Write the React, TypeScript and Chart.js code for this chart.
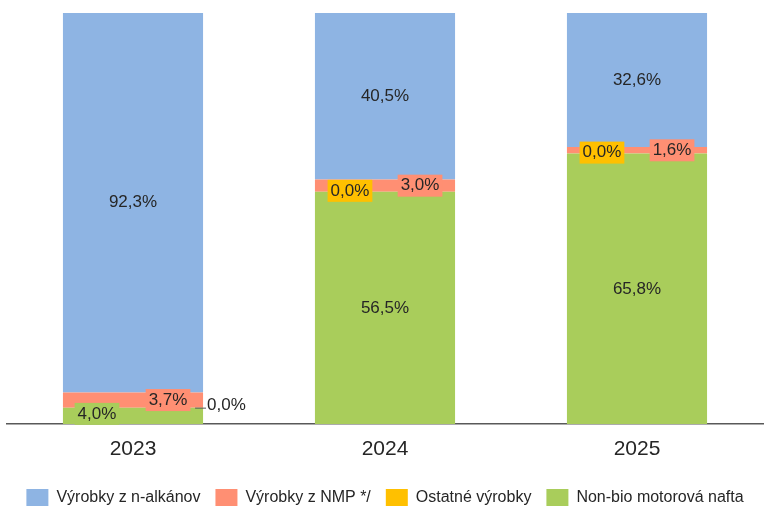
import React, { useEffect, useRef } from "react";
import { Chart, registerables } from "chart.js";

Chart.register(...registerables);

const categories = ["2023", "2024", "2025"];
const nonBio = [4.0, 56.5, 65.8];
const ostatne = [0.0, 0.0, 0.0];
const nmp = [3.7, 3.0, 1.6];
const nAlkany = [92.3, 40.5, 32.6];

const seriesNames = [
  "Non-bio motorová nafta",
  "Ostatné výrobky",
  "Výrobky z NMP */",
  "Výrobky z n-alkánov",
];
const colors = ["#A9CD5B", "#FFC000", "#FF8F73", "#8EB4E3"];

const FONT = "'Liberation Sans', Arial, sans-serif";
const TEXT = "#262626";

const fmt = (v: number) => v.toFixed(1).replace(".", ",") + "%";

const labelPlugin = {
  id: "segLabels",
  afterDatasetsDraw(chart: any) {
    const ctx = chart.ctx;
    ctx.save();
    ctx.font = `17px ${FONT}`;
    ctx.textBaseline = "middle";
    ctx.textAlign = "center";
    chart.data.datasets.forEach((ds: any, di: number) => {
      const meta = chart.getDatasetMeta(di);
      meta.data.forEach((bar: any, i: number) => {
        const v = ds.data[i];
        const txt = fmt(v);
        const w = bar.width;
        const top = Math.min(bar.y, bar.base);
        const bot = Math.max(bar.y, bar.base);
        const mid = (top + bot) / 2;
        let x = bar.x;
        let y = mid;
        let bg: string | null = null;
        if (di === 3) {
          // blue: centered
        } else if (di === 0) {
          if (bot - top < 30) {
            x = bar.x - w * 0.257;
            y = mid - 2;
            bg = colors[0];
          }
        } else if (di === 2) {
          x = bar.x + w * 0.25;
          bg = colors[2];
        } else if (di === 1) {
          if (i === 0) {
            const right = bar.x + w / 2;
            ctx.strokeStyle = "#595959";
            ctx.lineWidth = 1;
            ctx.beginPath();
            ctx.moveTo(right - 8, bot + 0.5);
            ctx.lineTo(right + 3, bot + 0.5);
            ctx.stroke();
            ctx.fillStyle = TEXT;
            ctx.textAlign = "left";
            ctx.fillText(txt, right + 4, bot - 2);
            ctx.textAlign = "center";
            return;
          }
          x = bar.x - w * 0.25;
          y = mid - 1;
          bg = colors[1];
        }
        if (bg) {
          const tw = ctx.measureText(txt).width;
          ctx.fillStyle = bg;
          ctx.fillRect(x - tw / 2 - 3, y - 11, tw + 6, 22);
        }
        ctx.fillStyle = TEXT;
        ctx.fillText(txt, x, y);
      });
    });
    ctx.restore();
  },
};

export default function App() {
  const ref = useRef<HTMLCanvasElement | null>(null);
  useEffect(() => {
    if (!ref.current) return;
    const dataArrays = [nonBio, ostatne, nmp, nAlkany];
    const chart = new Chart(ref.current, {
      type: "bar",
      data: {
        labels: categories,
        datasets: dataArrays.map((d, i) => ({
          label: seriesNames[i],
          data: d,
          backgroundColor: colors[i],
          borderWidth: 0,
          barPercentage: 1,
          categoryPercentage: 0.556,
        })),
      },
      options: {
        responsive: false,
        animation: false,
        layout: { padding: { left: 7, right: 8, top: 13, bottom: -9 } },
        scales: {
          x: {
            stacked: true,
            grid: { display: false, drawTicks: false },
            border: { display: true, color: "#595959", width: 1.5 },
            ticks: {
              color: TEXT,
              font: { family: FONT, size: 21, lineHeight: 1.9 },
              padding: 5,
            },
          },
          y: {
            stacked: true,
            display: false,
            min: 0,
            max: 100,
          },
        },
        plugins: {
          tooltip: { enabled: false },
          legend: {
            position: "bottom",
            reverse: true,
            labels: {
              color: TEXT,
              font: { family: FONT, size: 16 },
              boxWidth: 22,
              boxHeight: 17,
              padding: 15,
            },
          },
        },
      },
      plugins: [labelPlugin],
    });
    return () => chart.destroy();
  }, []);
  return (
    <div style={{ position: "fixed", left: 0, top: 0, width: 771, height: 507, background: "#fff" }}>
      <canvas ref={ref} width={771} height={507} />
    </div>
  );
}
